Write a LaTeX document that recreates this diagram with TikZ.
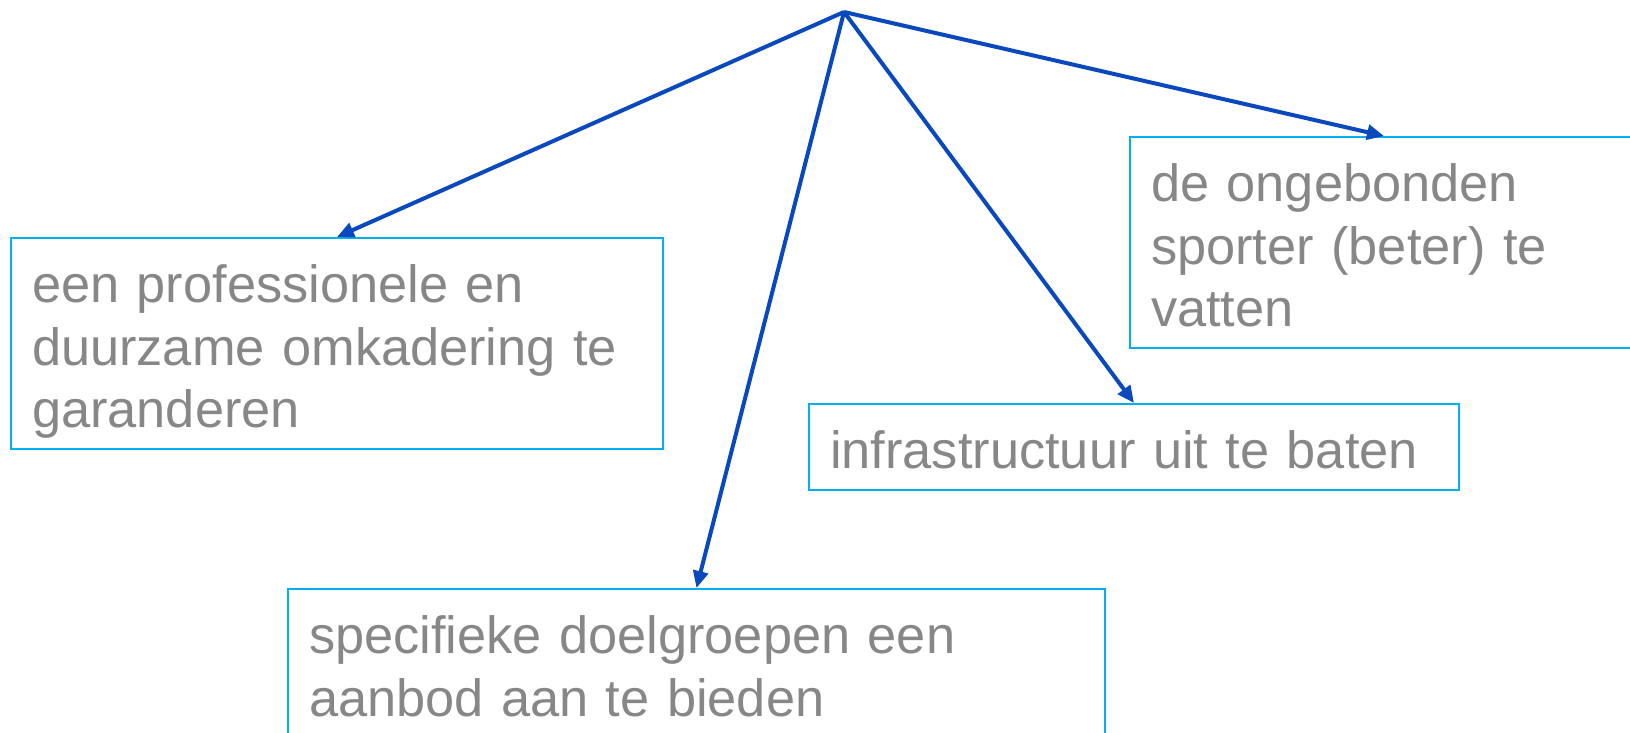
\documentclass[tikz,border=0pt]{standalone}
\usepackage{fontspec}
\setmainfont{Liberation Sans}
\usetikzlibrary{arrows.meta}
\definecolor{arrowblue}{RGB}{10,72,190}
\definecolor{boxcyan}{RGB}{0,176,240}
\definecolor{textgrey}{RGB}{135,135,135}
\newcommand{\goalend}{\endgraf\kern-\prevdepth}

\begin{document}
\begin{tikzpicture}[x=0.1mm, y=-0.1mm,
    goal/.style={draw=boxcyan, line width=0.2mm, anchor=north west, align=left,
      inner xsep=2.1mm, inner ysep=2.1mm, text=textgrey,
      font=\fontsize{14.9pt}{17.8pt}\selectfont,
      execute at begin node={\rule{0pt}{0.7\baselineskip}},
      execute at end node={\goalend}},
    link/.style={draw=arrowblue, line width=0.4mm, -{Triangle[length=1.7mm,width=1.5mm]}}]
    \useasboundingbox (0,0) rectangle (1630,733);
    \coordinate (top) at (844,12);
    \node[goal, text width=61mm] (omkadering) at (10,237) {een professionele en\\duurzame omkadering te\\garanderen};
    \node[goal, text width=60.8mm] (infra) at (808,403) {infrastructuur uit te baten};
    \node[goal, text width=46.6mm] (sporter) at (1129,136) {de ongebonden\\sporter (beter) te\\vatten};
    \node[goal, text width=77.5mm] (doelgroep) at (287,588) {specifieke doelgroepen een\\aanbod aan te bieden};
    % pijlen vanuit het bovenste punt
    \draw[link] (top) -- (omkadering.north);
    \draw[link] (top) -- (doelgroep.north);
    \draw[link] (top) -- (infra.north);
    \draw[link] (top) -- (sporter.north);
\end{tikzpicture}
\end{document}
